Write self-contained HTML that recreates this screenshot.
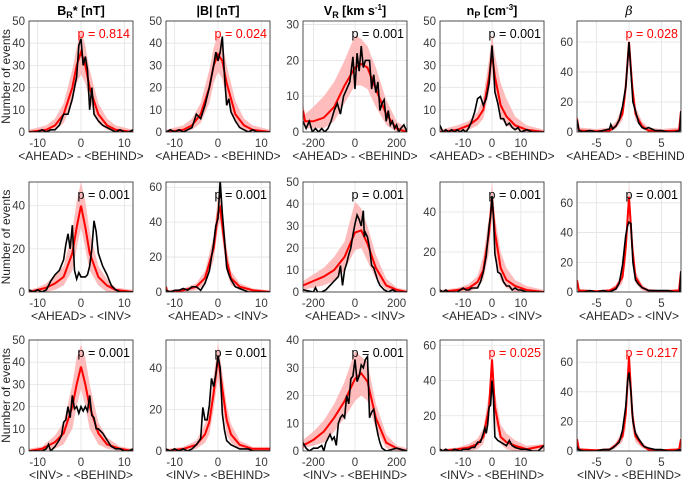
<!DOCTYPE html>
<html><head><meta charset="utf-8"><style>
body{margin:0;background:#fff;}
svg{display:block;font-family:"Liberation Sans",sans-serif;}
</style></head><body>
<svg id="chart" width="685" height="480" viewBox="0 0 685 480" xmlns="http://www.w3.org/2000/svg"></svg>
<script>
// ---- data: row1 (AHEAD-BEHIND) ----
const r1c1_rx=[-12,-8,-6,-4,-2,-1,0,1,2,4,6,8,12];
const r1c1_rm=[0,1,3,8,20,30,36,30,20,8,3,1,0];
const r1c1_ru=[1,3,6,13,28,38,46,39,28,13,6,3,1];
const r1c1_rl=[0,0,1,4,13,22,26,22,14,4,1,0,0];
const r1c1_bx=[-12,-11,-10,-9,-8,-7,-6,-5,-4,-3,-2,-1,-0.5,0,0.5,1,1.5,2,2.5,3,4,5,6,7,8,9,10,11,12];
const r1c1_by=[0,0,0,1,0,1,1,3,8,8,15,25,39,42,30,34,28,10,20,8,5,3,2,1,0,1,0,0,1];

const r1c2_rx=[-12,-8,-6,-4,-2,-1,0,1,2,4,6,8,12];
const r1c2_rm=[0,1,3,8,20,30,35,32,22,8,3,1,0];
const r1c2_ru=[1,3,6,13,28,38,44,40,30,14,6,3,1];
const r1c2_rl=[0,0,1,4,13,22,27,24,15,4,1,0,0];
const r1c2_bx=[-12,-11,-10,-9,-8,-7,-6,-5,-4,-3,-2,-1.5,-1,-0.5,0,0.5,1,1.5,2,2.5,3,4,5,6,7,8,9,12];
const r1c2_by=[0,1,0,1,0,1,2,8,6,12,20,25,30,36,32,36,43,25,12,15,9,5,2,1,0,1,0,0];

const r1c3_rx=[-250,-240,-200,-150,-100,-50,0,30,60,100,150,200,250];
const r1c3_rm=[6,3,3,4,7,13,18,19,18,12,5,1,0];
const r1c3_ru=[8,5,7,10,14,20,27,26,24,18,9,3,1];
const r1c3_rl=[3,1,1,1,3,8,13,13,12,7,2,0,0];
const r1c3_bx=[-250,-235,-220,-205,-190,-175,-160,-145,-130,-115,-100,-85,-70,-55,-40,-25,-10,0,10,20,30,40,50,60,70,80,90,100,110,120,130,140,150,160,170,180,190,200,210,220,235,250];
const r1c3_by=[3,1,3,0,1,0,1,0,1,3,6,8,5,10,12,14,21,12,22,17,24,18,20,20,20,12,16,11,14,6,8,9,3,6,2,3,1,2,0,1,2,0];

const r1c4_rx=[-18,-12,-8,-5,-3,-1,0,1,3,5,8,12,18];
const r1c4_rm=[0,1,3,6,10,25,35,25,12,7,3,1,0];
const r1c4_ru=[1,3,5,9,16,33,44,35,22,15,7,3,1];
const r1c4_rl=[0,0,1,3,6,18,27,17,6,3,1,0,0];
const r1c4_bx=[-18,-17,-16,-15,-14,-13,-12,-11,-10,-9,-8,-7,-6,-5,-4,-3,-2,-1,0,0.5,1,2,3,4,5,6,7,8,9,10,12,14,16,18];
const r1c4_by=[3,0,1,0,1,0,1,0,1,0,2,5,9,15,16,12,15,22,39,30,18,13,6,6,3,4,2,1,2,0,1,0,0,0];

const r1c5_rx=[-8,-7.7,-5,-3,-2,-1,-0.5,0,0.5,1,2,3,5,7.7,8];
const r1c5_rm=[9,1,0.5,1,4,12,30,60,30,12,4,1,0.5,1,14];
const r1c5_ru=[12,3,2,3,7,17,38,65,38,17,7,3,2,3,15];
const r1c5_rl=[6,0,0,0,2,8,22,52,22,8,2,0,0,0,10];
const r1c5_bx=[-8,-7.7,-7,-6,-5,-4,-3,-2.8,-2.5,-2,-1.5,-1,-0.5,0,0.3,0.6,1,1.5,2,2.5,3,4,5,6,7,7.8,8];
const r1c5_by=[8,1,0,1,0,1,2,5,2,4,8,17,30,60,40,20,14,6,3,2,3,1,1,0,0,1,14];

// ---- row2 (AHEAD-INV) ----
const r2c1_rx=[-12,-10,-8,-6,-4,-2,-1,0,1,2,4,6,8,12];
const r2c1_rm=[0,1,2,4,7,18,30,40,30,18,7,3,1,0];
const r2c1_ru=[1,2,4,8,12,28,42,51,42,28,12,6,2,1];
const r2c1_rl=[0,0,0,1,3,10,20,30,20,10,3,0,0,0];
const r2c1_bx=[-12,-11,-10,-9,-8,-7,-6,-5,-4,-3.5,-3,-2.5,-2,-1.5,-1,-0.5,0,0.5,1,1.5,2,2.5,3,3.5,4,5,6,7,8,9,10,12];
const r2c1_by=[1,0,1,0,1,5,8,10,15,22,27,20,31,10,6,9,7,7,7,8,12,20,33,28,18,12,8,3,1,0,0,0];

const r2c2_rx=[-12,-11.7,-8,-5,-3,-1,0,0.5,1,2,3,5,8,12];
const r2c2_rm=[3,0,1,3,8,25,45,48,38,18,8,3,1,0];
const r2c2_ru=[5,1,2,5,12,32,55,58,48,25,12,5,2,1];
const r2c2_rl=[1,0,0,1,4,18,37,40,30,12,4,1,0,0];
const r2c2_bx=[-12,-11,-10,-9,-8,-7,-6,-5,-4,-3,-2,-1,-0.5,0,0.5,1,1.5,2,2.5,3,4,5,6,7,8,12];
const r2c2_by=[1,0,1,1,2,1,3,3,1,5,12,28,38,42,64,45,30,14,10,7,3,2,1,0,0,0];

const r2c3_rx=[-250,-200,-150,-100,-50,0,30,60,100,150,200,250];
const r2c3_rm=[3,5,7,10,16,27,28,22,11,3,1,0];
const r2c3_ru=[5,8,11,16,23,41,38,30,17,6,2,1];
const r2c3_rl=[1,2,3,5,10,19,20,14,6,1,0,0];
const r2c3_bx=[-250,-200,-190,-180,-160,-140,-120,-100,-90,-80,-70,-60,-50,-40,-30,-20,-10,0,10,20,30,40,45,50,60,70,80,90,100,110,120,140,160,180,200,250];
const r2c3_by=[1,0,2,0,0,1,3,5,6,7,12,3,10,13,17,20,26,31,35,33,30,37,25,27,25,20,12,11,8,5,3,1,0,1,0,0];

const r2c4_rx=[-18,-12,-8,-5,-3,-1,0,1,3,5,8,12,18];
const r2c4_rm=[0,1,2,5,11,30,47,30,12,6,3,1,0];
const r2c4_ru=[1,2,4,8,18,38,55,38,20,12,6,3,1];
const r2c4_rl=[0,0,0,2,6,20,38,20,6,2,0,0,0];
const r2c4_bx=[-18,-17,-16,-15,-14,-12,-11,-10,-9,-8,-7,-6,-5,-4,-3,-2,-1,-0.5,0,0.5,1,1.5,2,3,4,5,6,7,8,9,10,12,14,18];
const r2c4_by=[1,0,1,0,0,0,1,2,1,1,2,2,2,5,10,18,33,38,48,38,19,15,10,9,5,3,3,1,2,1,1,0,0,0];

const r2c5_rx=[-8,-7.7,-5,-3,-2,-1,-0.5,0,0.5,1,2,3,5,7.7,8];
const r2c5_rm=[8,1,0.5,1,3,10,30,64,30,10,3,1,0.5,1,14];
const r2c5_ru=[10,2,1,2,5,14,40,72,40,14,5,2,1,2,15];
const r2c5_rl=[5,0,0,0,1,6,20,55,20,6,1,0,0,0,12];
const r2c5_bx=[-8,-7,-6,-5,-4,-3,-2,-1.5,-1,-0.5,-0.2,0,0.3,0.6,1,1.5,2,3,4,5,6,7,7.8,8];
const r2c5_by=[0,0,1,0,1,0,2,6,18,38,45,47,46,20,8,5,3,1,1,1,1,0,0,14];

// ---- row3 (INV-BEHIND) ----
const r3c1_rx=[-12,-9,-6,-4,-2,-1,0,1,2,4,6,9,12];
const r3c1_rm=[0,1,4,8,20,30,38,30,20,8,3,1,0];
const r3c1_ru=[1,2,7,13,30,42,48,42,30,13,6,2,1];
const r3c1_rl=[0,0,1,3,10,20,28,20,10,3,1,0,0];
const r3c1_bx=[-12,-10,-9,-8,-7.5,-7,-6,-5,-4.5,-4,-3.5,-3,-2.5,-2,-1.5,-1,-0.5,0,0.5,1,1.5,2,2.5,3,3.5,4,5,6,7,8,9,10,11,12];
const r3c1_by=[0,0,0,1,3,0,2,5,7,13,14,20,15,25,19,20,17,20,18,20,18,25,16,15,10,10,8,5,2,1,1,0,0,1];

const r3c2_rx=[-12,-8,-5,-3,-2,-1,0,1,2,3,5,8,12];
const r3c2_rm=[0,1,3,8,14,28,45,30,15,8,3,1,1];
const r3c2_ru=[1,2,5,13,20,36,52,38,22,13,5,2,2];
const r3c2_rl=[0,0,1,4,8,20,35,22,8,4,1,0,0];
const r3c2_bx=[-12,-11,-10,-9,-8,-7,-6,-5,-4,-3.5,-3,-2.5,-2,-1.5,-1,-0.5,0,0.5,1,1.5,2,3,4,5,6,7,8,9,12];
const r3c2_by=[1,0,1,0,1,0,1,3,6,21,15,15,22,35,31,37,46,40,18,10,5,3,2,1,1,1,0,0,0];

const r3c3_rx=[-250,-200,-150,-100,-50,0,30,60,100,150,200,250];
const r3c3_rm=[2,4,7,12,18,26,28,25,12,3,1,0];
const r3c3_ru=[4,7,11,17,25,36,34,32,17,6,2,1];
const r3c3_rl=[1,2,3,7,12,18,20,18,8,1,0,0];
const r3c3_bx=[-250,-235,-220,-200,-180,-160,-150,-140,-120,-110,-100,-90,-80,-70,-60,-50,-40,-30,-20,-10,0,10,20,30,40,50,60,70,80,90,100,110,120,130,150,200,250];
const r3c3_by=[3,1,0,1,1,2,0,3,6,4,5,2,10,12,13,12,20,17,26,27,33,25,27,31,30,33,34,12,14,15,10,6,3,1,0,1,0];

const r3c4_rx=[-18,-12,-8,-5,-3,-1,0,1,3,5,8,12,18];
const r3c4_rm=[0,1,2,4,8,25,52,25,8,5,3,1,3];
const r3c4_ru=[1,2,4,7,13,33,60,33,15,10,6,3,4];
const r3c4_rl=[0,0,0,1,4,17,42,17,4,1,0,0,1];
const r3c4_bx=[-18,-17,-16,-15,-14,-13,-11,-10,-9,-8,-7,-6,-5,-4,-3,-2.5,-2,-1.5,-1,-0.5,0,0.5,1,2,3,4,5,6,7,8,10,12,14,16,18];
const r3c4_by=[1,0,1,0,0,1,0,1,1,1,2,2,5,5,10,13,10,15,25,26,40,30,8,6,5,4,3,6,3,2,1,1,0,0,3];

const r3c5_rx=[-8,-7.7,-5,-3,-2,-1,-0.5,0,0.5,1,2,3,5,7.7,8];
const r3c5_rm=[8,1,0.5,1,4,10,25,64,25,10,4,1,0.5,1,8];
const r3c5_ru=[10,2,1,2,6,14,35,72,35,14,6,2,1,2,10];
const r3c5_rl=[6,0,0,0,2,6,15,55,15,6,2,0,0,0,6];
const r3c5_bx=[-8,-7.8,-7,-6,-5,-4,-3,-2.5,-2,-1.5,-1,-0.5,-0.2,0,0.3,0.6,1,1.5,2,2.3,3,4,5,6,7,8];
const r3c5_by=[3,1,0,0,0,1,1,2,4,6,14,30,48,53,40,20,12,8,5,3,2,1,1,0,0,1];

// tick labels and p-values
const xTicksB=[-10,0,10], xTicksV=[-200,0,200], xTicksN=[-10,0,10], xTicksBeta=[-5,0,5];
const pValues=[["0.814","0.024","0.001","0.001","0.028"],["0.001","0.001","0.001","0.001","0.001"],["0.001","0.001","0.001","0.025","0.217"]];
const pRed=[[1,1,0,0,1],[0,0,0,0,0],[0,0,0,1,1]];
const xLabels=["<AHEAD> - <BEHIND>","<AHEAD> - <INV>","<INV> - <BEHIND>"];

// layout
const NS="http://www.w3.org/2000/svg";
const svg=document.getElementById('chart');
const colL=[29,166,303,440,577], PW=104;
const rowT=[21,182,340], rowB=[132,292,451];
const xr=[[-12,12],[-12,12],[-250,250],[-18,18],[-8,8]];
const xt=[xTicksB,xTicksB,xTicksV,xTicksN,xTicksBeta];
const ymax=[[50,50,31,50,74],[51,63,50,55,74],[50,53.5,40,63,75]];
const ystep=[[10,10,10,10,20],[20,20,10,20,20],[10,20,10,20,20]];
const D={};
D.r1c1=[r1c1_rx,r1c1_rm,r1c1_ru,r1c1_rl,r1c1_bx,r1c1_by];
D.r1c2=[r1c2_rx,r1c2_rm,r1c2_ru,r1c2_rl,r1c2_bx,r1c2_by];
D.r1c3=[r1c3_rx,r1c3_rm,r1c3_ru,r1c3_rl,r1c3_bx,r1c3_by];
D.r1c4=[r1c4_rx,r1c4_rm,r1c4_ru,r1c4_rl,r1c4_bx,r1c4_by];
D.r1c5=[r1c5_rx,r1c5_rm,r1c5_ru,r1c5_rl,r1c5_bx,r1c5_by];
D.r2c1=[r2c1_rx,r2c1_rm,r2c1_ru,r2c1_rl,r2c1_bx,r2c1_by];
D.r2c2=[r2c2_rx,r2c2_rm,r2c2_ru,r2c2_rl,r2c2_bx,r2c2_by];
D.r2c3=[r2c3_rx,r2c3_rm,r2c3_ru,r2c3_rl,r2c3_bx,r2c3_by];
D.r2c4=[r2c4_rx,r2c4_rm,r2c4_ru,r2c4_rl,r2c4_bx,r2c4_by];
D.r2c5=[r2c5_rx,r2c5_rm,r2c5_ru,r2c5_rl,r2c5_bx,r2c5_by];
D.r3c1=[r3c1_rx,r3c1_rm,r3c1_ru,r3c1_rl,r3c1_bx,r3c1_by];
D.r3c2=[r3c2_rx,r3c2_rm,r3c2_ru,r3c2_rl,r3c2_bx,r3c2_by];
D.r3c3=[r3c3_rx,r3c3_rm,r3c3_ru,r3c3_rl,r3c3_bx,r3c3_by];
D.r3c4=[r3c4_rx,r3c4_rm,r3c4_ru,r3c4_rl,r3c4_bx,r3c4_by];
D.r3c5=[r3c5_rx,r3c5_rm,r3c5_ru,r3c5_rl,r3c5_bx,r3c5_by];

function mk(tag,attrs,parent){const e=document.createElementNS(NS,tag);for(const k in attrs)e.setAttribute(k,attrs[k]);(parent||svg).appendChild(e);return e;}

for(let r=0;r<3;r++){for(let c=0;c<5;c++){
  const L=colL[c],R=L+PW,T=rowT[r],B=rowB[r];
  const x0=xr[c][0],x1=xr[c][1],ym=ymax[r][c];
  const sx=v=>L+(v-x0)/(x1-x0)*PW;
  const sy=v=>B-v/ym*(B-T);
  const g=mk('g',{});
  
  
  xt[c].forEach(t=>{const l=mk('line',{x1:sx(t),x2:sx(t),y1:T,y2:B,stroke:'#e3e3e3','stroke-width':0.8},g);
    });
  for(let v=0;v<=ym;v+=ystep[r][c]){const l=mk('line',{x1:L,x2:R,y1:sy(v),y2:sy(v),stroke:'#e3e3e3','stroke-width':0.8},g);
    
    const tx=mk('text',{x:L-4,y:sy(v)+4,'text-anchor':'end','font-size':11.5,fill:'#3a3a3a'},g);tx.textContent=v;
    }
  xt[c].forEach(t=>{const tx=mk('text',{x:sx(t),y:B+15,'text-anchor':'middle','font-size':11.5,fill:'#3a3a3a'},g);tx.textContent=t;
    });
  const d=D['r'+(r+1)+'c'+(c+1)];
  const clip='clip'+r+c;
  const cp=mk('clipPath',{id:clip},g);mk('rect',{x:L,y:T,width:PW,height:B-T},cp);
  const pg=mk('g',{'clip-path':'url(#'+clip+')'},g);
  let bp='M'+d[0].map((x,i)=>sx(x)+','+sy(d[2][i])).join('L');
  for(let i=d[0].length-1;i>=0;i--)bp+='L'+sx(d[0][i])+','+sy(d[3][i]);
  const band=mk('path',{d:bp+'Z',fill:'#ffb0b0','fill-opacity':0.85},pg);
  
  const red=mk('path',{d:'M'+d[0].map((x,i)=>sx(x)+','+sy(d[1][i])).join('L'),fill:'none',stroke:'#ff0000','stroke-width':2},pg);
  
  const blk=mk('path',{d:'M'+d[4].map((x,i)=>sx(x)+','+sy(d[5][i])).join('L'),fill:'none',stroke:'#000','stroke-width':1.6},pg);
  
  const box=mk('rect',{x:L,y:T,width:PW,height:B-T,fill:'none',stroke:'#262626','stroke-width':0.8},g);
  
  const p=mk('text',{x:R-3,y:T+17,'text-anchor':'end','font-size':12.5,fill:pRed[r][c]?'#ff0000':'#000'},g);
  p.textContent='p = '+pValues[r][c];
  
  const xl=mk('text',{x:L+PW/2,y:B+28,'text-anchor':'middle','font-size':12,fill:'#262626'},g);
  xl.textContent=xLabels[r];
  
}
  const yl=mk('text',{x:0,y:0,transform:'translate(10,'+((rowT[r]+rowB[r])/2)+') rotate(-90)','text-anchor':'middle','font-size':12,fill:'#262626'});
  yl.textContent='Number of events';
  
}
</script>
<script>
const titles=[
 ['B<tspan font-size="9" dy="3">R</tspan><tspan dy="-3">* [nT]</tspan>',81],
 ['|B| [nT]',218],
 ['V<tspan font-size="9" dy="3">R</tspan><tspan dy="-3"> [km s</tspan><tspan font-size="8" dy="-5">-1</tspan><tspan dy="5">]</tspan>',355],
 ['n<tspan font-size="9" dy="3">P</tspan><tspan dy="-3"> [cm</tspan><tspan font-size="8" dy="-5">-3</tspan><tspan dy="5">]</tspan>',492],
 ['<tspan font-style="italic" font-weight="normal" font-family="DejaVu Serif, serif">β</tspan>',629]];
titles.forEach(t=>{
 const e=document.createElementNS("http://www.w3.org/2000/svg",'text');
 e.setAttribute('x',t[1]);e.setAttribute('y',15);e.setAttribute('text-anchor','middle');
 e.setAttribute('font-size','12.5');e.setAttribute('font-weight','bold');e.setAttribute('fill','#000');
 e.innerHTML=t[0];
 
 
 document.getElementById('chart').appendChild(e);
});
</script>
</body></html>
